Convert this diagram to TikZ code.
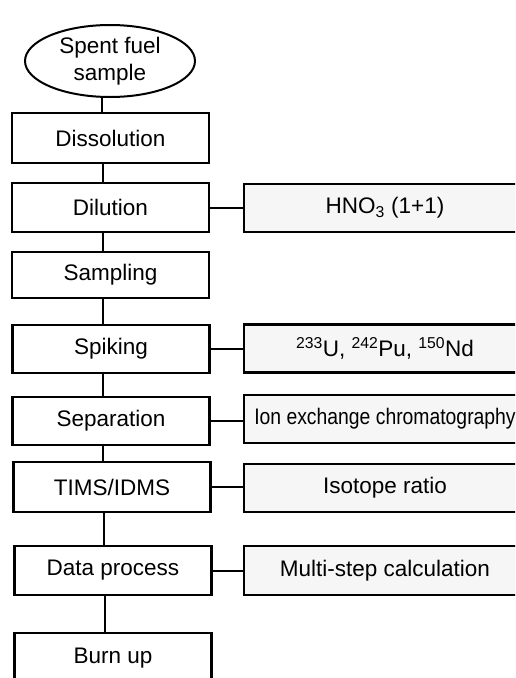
\documentclass[tikz,border=0pt]{standalone}
\usepackage{fontspec}
\setmainfont{Liberation Sans}
\usetikzlibrary{shapes.geometric}
\begin{document}
\begin{tikzpicture}[x=1pt,y=-1pt,
  every node/.style={font=\fontsize{22.5}{27}\selectfont, inner sep=0pt},
  stepbox/.style={draw, line width=2.4pt, minimum width=197pt, minimum height=48pt},
  notebox/.style={draw, line width=2.4pt, fill=gray!7, minimum width=282pt, minimum height=48pt},
  link/.style={line width=2pt}]
\useasboundingbox (0,0) rectangle (515,678);
\clip (0,0) rectangle (515,678);
\node[draw, ellipse, line width=2pt, minimum width=170pt, minimum height=72pt, align=center] (ell) at (110,61) {Spent fuel\\sample};
\node[stepbox, minimum height=50pt] (diss) at (110.5,138) {Dissolution};
\node[stepbox, minimum height=49pt] (dil) at (110.5,207.5) {Dilution};
\node[stepbox, minimum height=46pt] (samp) at (110.5,275) {Sampling};
\node[stepbox] (spik) at (111,349) {Spiking};
\node[stepbox] (sep) at (111,421) {Separation};
\node[stepbox, minimum height=50pt] (tims) at (112,487) {TIMS/IDMS};
\node[stepbox, minimum height=49pt] (data) at (113,570.5) {Data process};
\node[stepbox, minimum height=58pt] (burn) at (113,662) {};
\node at (113,658) {Burn up};

\node[notebox, minimum height=48pt] (hno) at (385,208) {HNO\textsubscript{3} (1+1)};
\node[notebox] (spk) at (385,348.5) {\textsuperscript{233}U, \textsuperscript{242}Pu, \textsuperscript{150}Nd};
\node[notebox] (ion) at (385,419) {\scalebox{0.86}[1]{Ion exchange chromatography}};
\node[notebox] (iso) at (385,488) {Isotope ratio};
\node[notebox, minimum height=49pt] (mul) at (385,570.5) {Multi-step calculation};

\draw[link] ([xshift=-8pt]ell.south) -- ([xshift=-8pt]ell.south |- diss.north);
\draw[link] ([xshift=-8pt]diss.south) -- ([xshift=-8pt]diss.south |- dil.north);
\draw[link] ([xshift=-8pt]dil.south) -- ([xshift=-8pt]dil.south |- samp.north);
\draw[link] ([xshift=-8pt]samp.south) -- ([xshift=-8pt]samp.south |- spik.north);
\draw[link] ([xshift=-8pt]spik.south) -- ([xshift=-8pt]spik.south |- sep.north);
\draw[link] ([xshift=-8pt]sep.south) -- ([xshift=-8pt]sep.south |- tims.north);
\draw[link] ([xshift=-8pt]tims.south) -- ([xshift=-8pt]tims.south |- data.north);
\draw[link] ([xshift=-8pt]data.south) -- ([xshift=-8pt]data.south |- burn.north);

\draw[link] (dil.east) -- (dil.east -| hno.west);
\draw[link] (spik.east) -- (spik.east -| spk.west);
\draw[link] (sep.east) -- (sep.east -| ion.west);
\draw[link] (tims.east) -- (tims.east -| iso.west);
\draw[link] (data.east) -- (data.east -| mul.west);
\end{tikzpicture}
\end{document}
